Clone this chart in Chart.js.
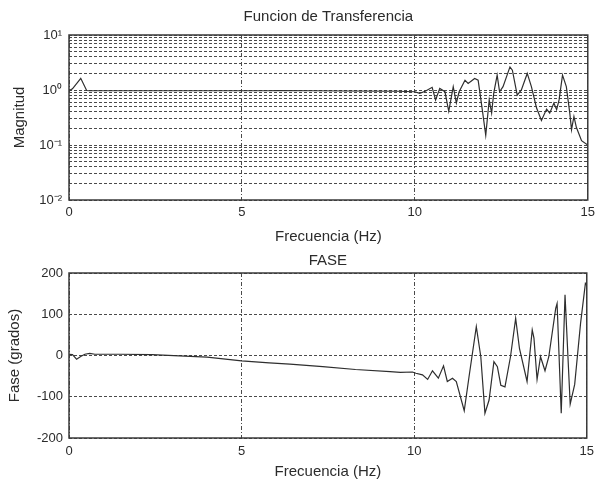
<!DOCTYPE html>
<html>
<head>
<meta charset="utf-8">
<script src="https://cdn.jsdelivr.net/npm/chart.js@4/dist/chart.umd.min.js"></script>
<style>
  html, body { margin: 0; padding: 0; background: #fff; }
  #wrap { position: relative; width: 595px; height: 483px; overflow: hidden; }
  #wrap canvas { position: absolute; left: 0; }
  #c1 { top: 0; }
  #c2 { top: 248px; }
</style>
</head>
<body>
<div id="wrap">
  <canvas id="c1" width="600" height="248"></canvas>
  <canvas id="c2" width="600" height="235"></canvas>
</div>
<script>
// ---- data ----
const magFreq = [0, 0.1, 0.34, 0.51, 0.6, 2, 4, 5.8, 6, 8, 9.5, 10, 10.14, 10.3, 10.5, 10.6, 10.72, 10.87, 10.98, 11.11, 11.2, 11.28, 11.45, 11.54, 11.73, 11.83, 11.95, 12.05, 12.15, 12.22, 12.28, 12.38, 12.45, 12.55, 12.75, 12.82, 12.96, 13.08, 13.25, 13.37, 13.52, 13.66, 13.81, 13.9, 14.02, 14.1, 14.17, 14.27, 14.38, 14.48, 14.53, 14.6, 14.67, 14.82, 15];
const magValues = [0.97, 1.05, 1.63, 0.98, 0.97, 0.97, 0.97, 0.97, 0.98, 0.96, 0.95, 0.93, 0.87, 0.95, 1.12, 0.66, 1.07, 0.93, 0.41, 1.15, 0.58, 0.93, 1.51, 1.32, 1.62, 1.51, 0.44, 0.15, 0.66, 0.38, 0.87, 1.86, 0.93, 1.15, 2.63, 2.29, 0.81, 1.0, 2.0, 1.15, 0.47, 0.28, 0.45, 0.38, 0.58, 0.44, 0.66, 1.86, 1.15, 0.38, 0.19, 0.33, 0.21, 0.12, 0.10];

const phaseFreq = [0, 0.1, 0.22, 0.35, 0.46, 0.6, 0.75, 1.5, 2.4, 3.2, 4.0, 5.0, 5.8, 6.4, 7.35, 8.3, 9.3, 9.6, 9.95, 10.05, 10.24, 10.39, 10.53, 10.7, 10.85, 10.96, 11.11, 11.22, 11.45, 11.59, 11.8, 11.93, 12.05, 12.17, 12.31, 12.41, 12.51, 12.63, 12.79, 12.94, 13.05, 13.27, 13.42, 13.47, 13.56, 13.66, 13.79, 13.9, 14.1, 14.14, 14.26, 14.37, 14.52, 14.65, 14.82, 14.96, 15];
const phaseValues = [3, 2, -9, -2, 3, 5, 3, 3, 2, -1, -4, -13, -18, -21, -27, -34, -39, -41, -40, -43, -47, -58, -37, -55, -25, -63, -55, -63, -134, -51, 70, -3, -140, -108, -15, -27, -72, -76, -3, 90, 17, -63, 62, 42, -58, -3, -37, -3, 114, 126, -140, 147, -118, -70, 78, 175, 170];

const magTickValues = [0.01, 0.02, 0.03, 0.04, 0.05, 0.06, 0.07, 0.08, 0.09,
                       0.1, 0.2, 0.3, 0.4, 0.5, 0.6, 0.7, 0.8, 0.9,
                       1, 2, 3, 4, 5, 6, 7, 8, 9, 10];
const magTickLabels = { 0.01: '10\u207B\u00B2', 0.1: '10\u207B\u00B9', 1: '10\u2070', 10: '10\u00B9' };
const freqTicks = [0, 5, 10, 15];
const phaseTicks = [-200, -100, 0, 100, 200];

const titles = {
  mag: 'Funcion de Transferencia',
  phase: 'FASE',
  x: 'Frecuencia (Hz)',
  magY: 'Magnitud',
  phaseY: 'Fase (grados)'
};

// ---- styling ----
const TXT = '#2b2b2b';
const GRID = '#4a4a4a';
const FONT = 'Liberation Sans, Arial, sans-serif';

const frame = {
  id: 'frame',
  afterDraw(chart) {
    const a = chart.chartArea, ctx = chart.ctx;
    ctx.save();
    ctx.strokeStyle = '#3a3a3a';
    ctx.lineWidth = 1.5;
    ctx.setLineDash([]);
    ctx.strokeRect(a.left, a.top, a.right - a.left, a.bottom - a.top);
    ctx.restore();
  }
};

function pts(xs, ys) { return xs.map((x, i) => ({ x: x, y: ys[i] })); }

function xScale(height, titlePadBottom, tickPad) {
  return {
    type: 'linear', min: 0, max: 15,
    afterBuildTicks: s => { s.ticks = freqTicks.map(v => ({ value: v })); },
    afterFit: s => { s.height = height; },
    grid: { color: GRID, lineWidth: 1, drawTicks: false },
    border: { display: false, dash: [4, 2, 1, 2] },
    ticks: { color: TXT, font: { family: FONT, size: 13 }, padding: tickPad, maxRotation: 0, autoSkip: false },
    title: { display: true, text: titles.x, color: TXT, font: { family: FONT, size: 15 }, padding: { top: 0, bottom: titlePadBottom } }
  };
}

// ---- top chart: magnitude (log) ----
new Chart(document.getElementById('c1'), {
  type: 'line',
  data: { datasets: [{ data: pts(magFreq, magValues), borderColor: '#2e2e2e', borderWidth: 1.2, pointRadius: 0, tension: 0, fill: false }] },
  options: {
    responsive: false, animation: false, devicePixelRatio: 1,
    layout: { padding: { left: 0, right: 0, top: 0, bottom: 0 } },
    plugins: {
      legend: { display: false }, tooltip: { enabled: false },
      title: { display: true, fullSize: false, text: titles.mag, color: TXT, font: { family: FONT, size: 15, weight: 'normal' }, padding: { top: 8, bottom: 9 } }
    },
    scales: {
      x: xScale(48, 2, 5),
      y: {
        type: 'logarithmic', min: 0.01, max: 10,
        afterBuildTicks: s => { s.ticks = magTickValues.map(v => ({ value: v })); },
        afterFit: s => { s.width = 69; },
        grid: { color: GRID, lineWidth: 1, drawTicks: false },
        border: { display: false, dash: [3, 2] },
        ticks: {
          autoSkip: false, color: TXT, font: { family: FONT, size: 13 }, padding: 7,
          callback: v => (magTickLabels[v] !== undefined ? magTickLabels[v] : '')
        },
        title: { display: true, text: titles.magY, color: TXT, font: { family: FONT, size: 15 }, padding: { top: 11, bottom: 0 } }
      }
    }
  },
  plugins: [frame]
});

// ---- bottom chart: phase ----
new Chart(document.getElementById('c2'), {
  type: 'line',
  data: { datasets: [{ data: pts(phaseFreq, phaseValues), borderColor: '#2e2e2e', borderWidth: 1.2, pointRadius: 0, tension: 0, fill: false }] },
  options: {
    responsive: false, animation: false, devicePixelRatio: 1,
    layout: { padding: { left: 0, right: 0, top: 0, bottom: 0 } },
    plugins: {
      legend: { display: false }, tooltip: { enabled: false },
      title: { display: true, fullSize: false, text: titles.phase, color: TXT, font: { family: FONT, size: 15, weight: 'normal' }, padding: { top: 4, bottom: 3 } }
    },
    scales: {
      x: xScale(45, 2, 6),
      y: {
        type: 'linear', min: -200, max: 200,
        afterBuildTicks: s => { s.ticks = phaseTicks.map(v => ({ value: v })); },
        afterFit: s => { s.width = 69; },
        grid: { color: GRID, lineWidth: 1, drawTicks: false },
        border: { display: false, dash: [3, 2] },
        ticks: { autoSkip: false, color: TXT, font: { family: FONT, size: 13 }, padding: 6 },
        title: { display: true, text: titles.phaseY, color: TXT, font: { family: FONT, size: 15 }, padding: { top: 6, bottom: 0 } }
      }
    }
  },
  plugins: [frame]
});
</script>
</body>
</html>
